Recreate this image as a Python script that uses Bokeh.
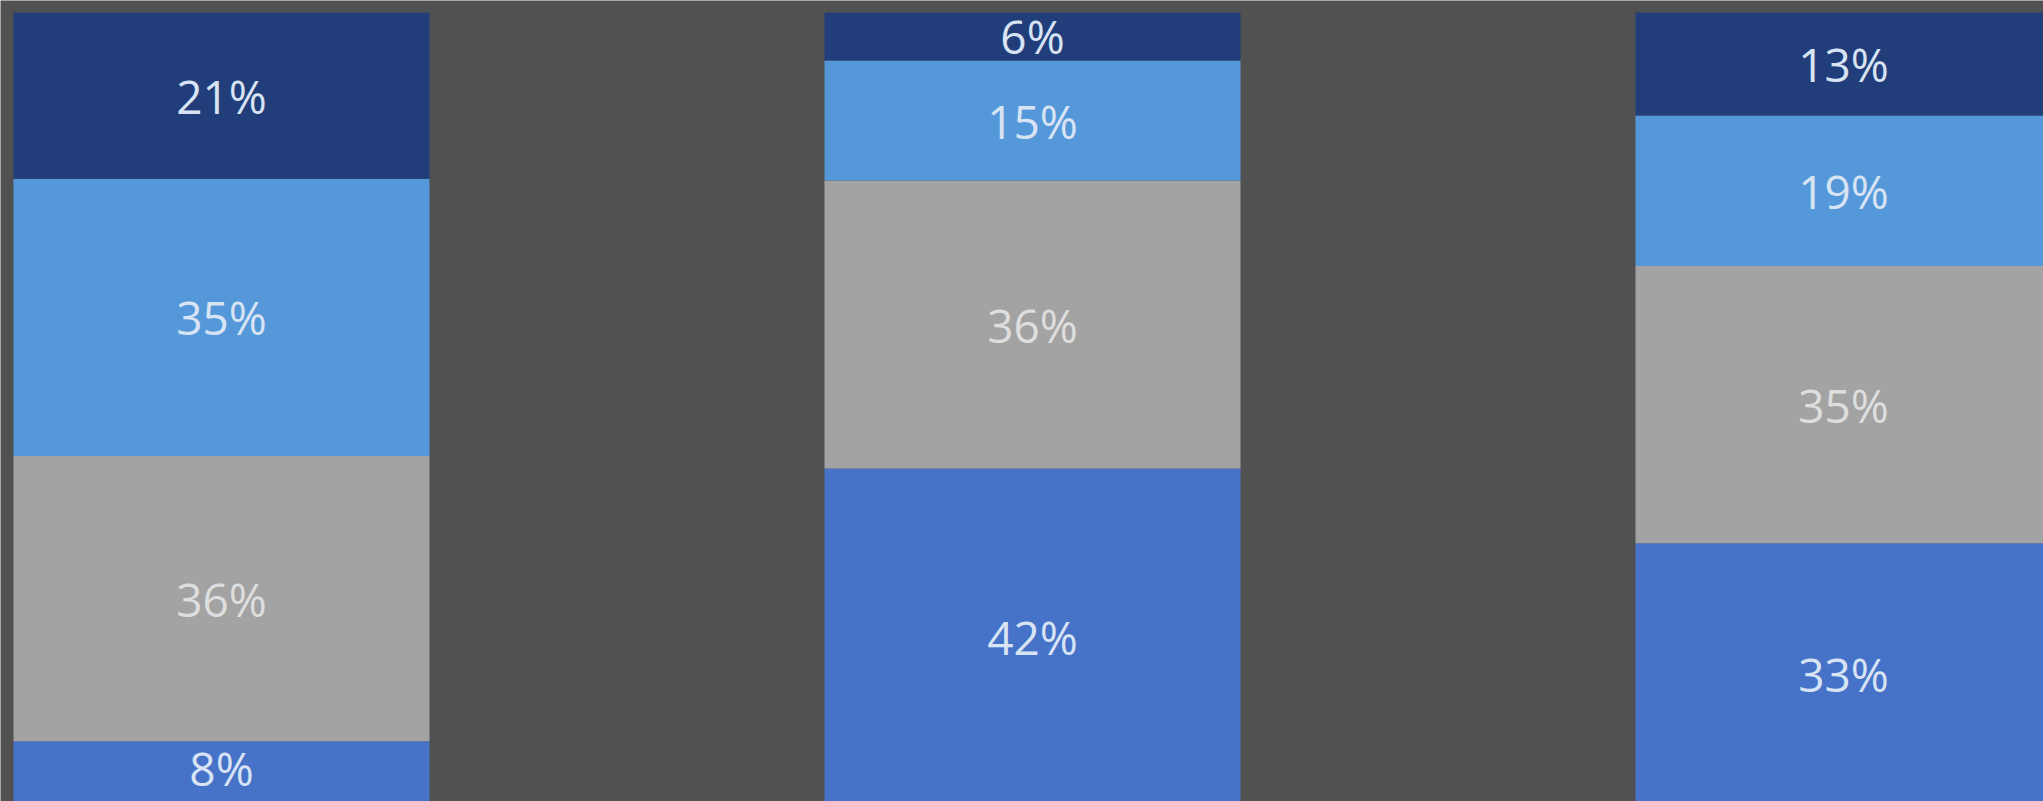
from bokeh.plotting import figure
from bokeh.models import ColumnDataSource, Range1d
from bokeh.core.properties import value
from bokeh.embed import file_html
from bokeh.resources import INLINE

# ---- data ----
categories = ["Group 1", "Group 2", "Group 3"]
series = ["Series 1", "Series 2", "Series 3", "Series 4"]  # bottom -> top
series_1 = [8, 42, 33]
series_2 = [36, 36, 35]
series_3 = [35, 15, 19]
series_4 = [21, 6, 13]
colors = ["#4673c8", "#a3a3a3", "#5598d9", "#223e7a"]
text_colors = ["#d8e4f4", "#dedede", "#d8e4f4", "#d8e4f4"]

raw = [series_1, series_2, series_3, series_4]
x = [1, 2, 3]
totals = [sum(r[i] for r in raw) for i in range(len(categories))]
shares = [[v / t * 100 for v, t in zip(r, totals)] for r in raw]

data = {"x": x}
for name, s in zip(series, shares):
    data[name] = s
src = ColumnDataSource(data)

H = 801
y0, y1 = 0.38, 101.515
p = figure(width=2043, height=H, output_backend="svg", toolbar_location=None,
           x_range=Range1d(0.7275, 3.2466), y_range=Range1d(y0, y1),
           min_border=0, background_fill_color="#515151", border_fill_color="#515151")
p.outline_line_color = None
p.xgrid.visible = False
p.ygrid.visible = False
p.xaxis.visible = False
p.yaxis.visible = False

p.vbar_stack(series, x="x", width=0.513, color=colors, line_color=None, source=src)

# labels at segment centres (kept inside the visible area)
px_per_unit = H / (y1 - y0)
min_y = y0 + 34 / px_per_unit
lx, ly, lt, lc = [], [], [], []
for i in range(len(categories)):
    base = 0
    for k in range(len(series)):
        h = shares[k][i]
        lx.append(x[i])
        ly.append(max(base + h / 2, min_y))
        lt.append(f"{raw[k][i]}%")
        lc.append(text_colors[k])
        base += h
lsrc = ColumnDataSource(dict(x=lx, y=ly, t=lt, c=lc))
p.text(x="x", y="y", text="t", source=lsrc, text_color="c", text_align="center",
       text_baseline="middle", text_font=value("Open Sans"), text_font_size="46px",
       text_line_height=1.0)

html = file_html(p, INLINE)
html = html.replace("<body>", '<body style="background:#515151;">', 1)
open("out.html", "w").write(html)
